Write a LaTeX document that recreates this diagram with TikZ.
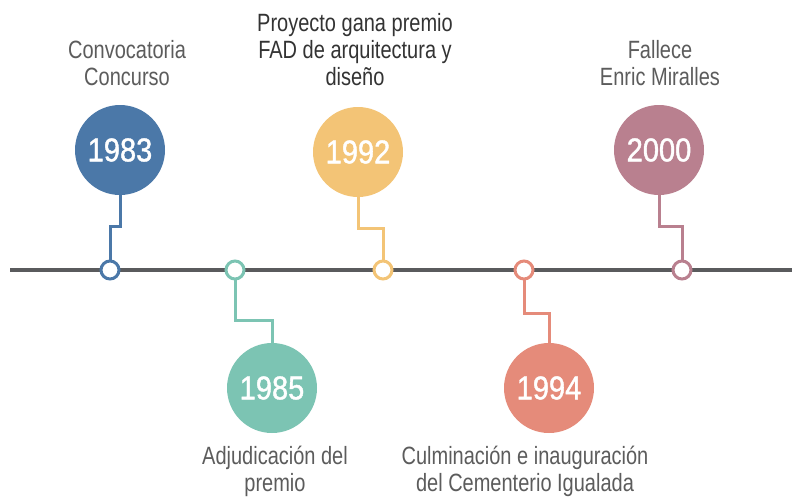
\documentclass[tikz,border=0pt]{standalone}
\usepackage{fontspec}
\setmainfont{Liberation Sans}[FakeStretch=0.8]
\newfontfamily\yearfont{Liberation Sans}[FakeStretch=0.88, FakeBold=1.2]
\usepackage{xcolor}
\usetikzlibrary{positioning}
\definecolor{blu}{HTML}{4B78A8}
\definecolor{tea}{HTML}{7CC4B3}
\definecolor{yel}{HTML}{F3C476}
\definecolor{sal}{HTML}{E58B7A}
\definecolor{mau}{HTML}{B9808F}
\definecolor{linegr}{HTML}{5A5B5D}
\definecolor{txtgr}{HTML}{5C5C5C}
\definecolor{txtdk}{HTML}{333333}
\tikzset{
  year/.style={circle, fill=#1, minimum size=90pt, inner sep=0pt, text=white,
               font=\yearfont\fontsize{33}{33}\selectfont},
  dot/.style={circle, draw=#1, fill=white, line width=3pt, minimum size=18pt, inner sep=0pt},
  conn/.style={draw=#1, line width=3pt},
  timeline/.style={draw=linegr, line width=4pt},
  lbl/.style={align=center, text=txtgr, inner sep=0pt, font=\fontsize{25}{27}\selectfont},
}

\begin{document}
\begin{tikzpicture}[x=1pt, y=-1pt]
  \useasboundingbox (0,0) rectangle (792,496);
  \coordinate (tlL) at (10,270);
  \coordinate (tlR) at (792,270);
  \draw[timeline] (tlL) -- (tlR);
  \node[year=blu] (y83) at (120,150) {1983};
  \node[year=tea] (y85) at (272,388) {1985};
  \node[year=yel] (y92) at (358,152) {1992};
  \node[year=sal] (y94) at (549,388) {1994};
  \node[year=mau] (y00) at (659,150) {2000};
  \draw[conn=blu] (y83.south) -- ++(0,31) -| (110,260);
  \draw[conn=tea] (235,280) -- ++(0,40) -| (y85.north);
  \draw[conn=yel] (y92.south) -- ++(0,31) -| (383,260);
  \draw[conn=sal] (524,280) -- ++(0,33) -| (y94.north);
  \draw[conn=mau] (y00.south) -- ++(0,31) -| (682,260);
  \node[dot=blu] (d83) at (110,270) {};
  \node[dot=tea] (d85) at (235,270) {};
  \node[dot=yel] (d92) at (383,270) {};
  \node[dot=sal] (d94) at (524,270) {};
  \node[dot=mau] (d00) at (682,270) {};
  \node[lbl] (t83) at (127,63) {Convocatoria\\Concurso};
  \node[lbl, text=txtdk] (t92) at (355,50) {Proyecto gana premio\\FAD de arquitectura y\\diseño};
  \node[lbl] (t00) at (660,63) {Fallece\\Enric Miralles};
  \node[lbl] (t85) at (275,471) {Adjudicación del\\premio};
  \node[lbl] (t94) at (525,471) {Culminación e inauguración\\del Cementerio Igualada};
\end{tikzpicture}
\end{document}
